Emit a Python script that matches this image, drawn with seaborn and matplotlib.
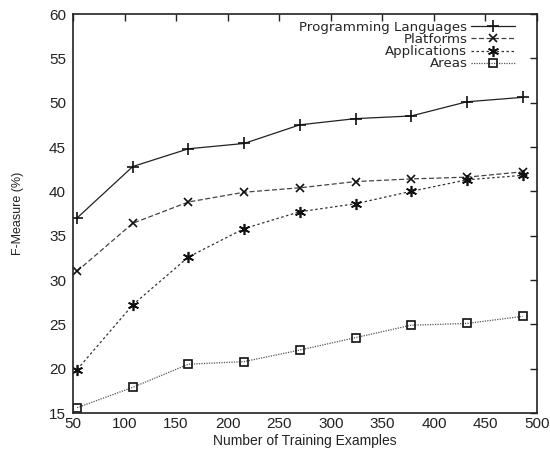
import matplotlib
matplotlib.use("Agg")
import matplotlib.pyplot as plt
import seaborn as sns
import pandas as pd

examples = [54, 108, 162, 216, 270, 324, 378, 432, 486]
prog_lang = [37.0, 42.8, 44.8, 45.4, 47.5, 48.2, 48.5, 50.1, 50.6]
platforms = [31.0, 36.4, 38.8, 39.9, 40.4, 41.1, 41.4, 41.6, 42.2]
applications = [19.9, 27.2, 32.6, 35.8, 37.7, 38.6, 40.0, 41.3, 41.8]
areas = [15.6, 17.9, 20.5, 20.8, 22.1, 23.5, 24.9, 25.1, 25.9]
series_names = ["Programming Languages", "Platforms", "Applications", "Areas"]

sns.set_theme(style="white")
plt.rcParams['font.family'] = ['Liberation Sans', 'DejaVu Sans']

rows = []
for name, vals in zip(series_names, [prog_lang, platforms, applications, areas]):
    for x, y in zip(examples, vals):
        rows.append({"Examples": x, "F": y, "Series": name})
df = pd.DataFrame(rows)

fig = plt.figure(figsize=(5.5, 4.51), dpi=100)
ax = fig.add_axes([73/550, 1 - 413/451, (537-73)/550, (413-14)/451])

styles = {
    "Programming Languages": dict(ls="-", marker="+", color="#222222", ms=8, lw=0.9),
    "Platforms": dict(ls=(0, (4, 2)), marker="x", color="#444444", ms=6, lw=0.9),
    "Applications": dict(ls=(0, (2, 2)), marker=(6, 2, 0), color="#333333", ms=8, lw=0.9),
    "Areas": dict(ls=(0, (1, 1)), marker="s", color="#555555", ms=6, lw=0.9, mfc="none", mec="#111111"),
}
for name in series_names:
    sub = df[df["Series"] == name]
    st = styles[name]
    sns.lineplot(data=sub, x="Examples", y="F", ax=ax, label=name,
                 color=st["color"], linestyle=st["ls"], marker=st["marker"],
                 markersize=st["ms"], linewidth=st["lw"],
                 markerfacecolor=st.get("mfc", st["color"]),
                 markeredgecolor=st.get("mec", "#111111"), markeredgewidth=1.2)

ax.set_xlim(50, 500)
ax.set_ylim(15, 60)
ax.set_xticks(range(50, 501, 50))
ax.set_yticks(range(15, 61, 5))
ax.tick_params(direction="in", length=5, width=1, top=True, right=True,
               labelsize=11, colors="#222222", pad=3)
ax.tick_params(axis="y", labelright=False, pad=5)
for s in ax.spines.values():
    s.set_color("#222222")
    s.set_linewidth(1.2)
ax.set_xlabel("Number of Training Examples", fontsize=10, color="#222222", labelpad=2)
ax.set_ylabel("F-Measure (%)", fontsize=9, color="#222222", labelpad=18)

leg = ax.legend(loc="upper right", bbox_to_anchor=(0.962, 0.993), frameon=False,
                markerfirst=False, handlelength=3.3,
                prop={"family": "DejaVu Sans", "size": 9.6},
                labelspacing=-0.06, borderaxespad=0, handletextpad=0.3,
                borderpad=0.3)
for t in leg.get_texts():
    t.set_ha("right")
leg._legend_box.align = "right"

fig.savefig("out.png", dpi=100)
